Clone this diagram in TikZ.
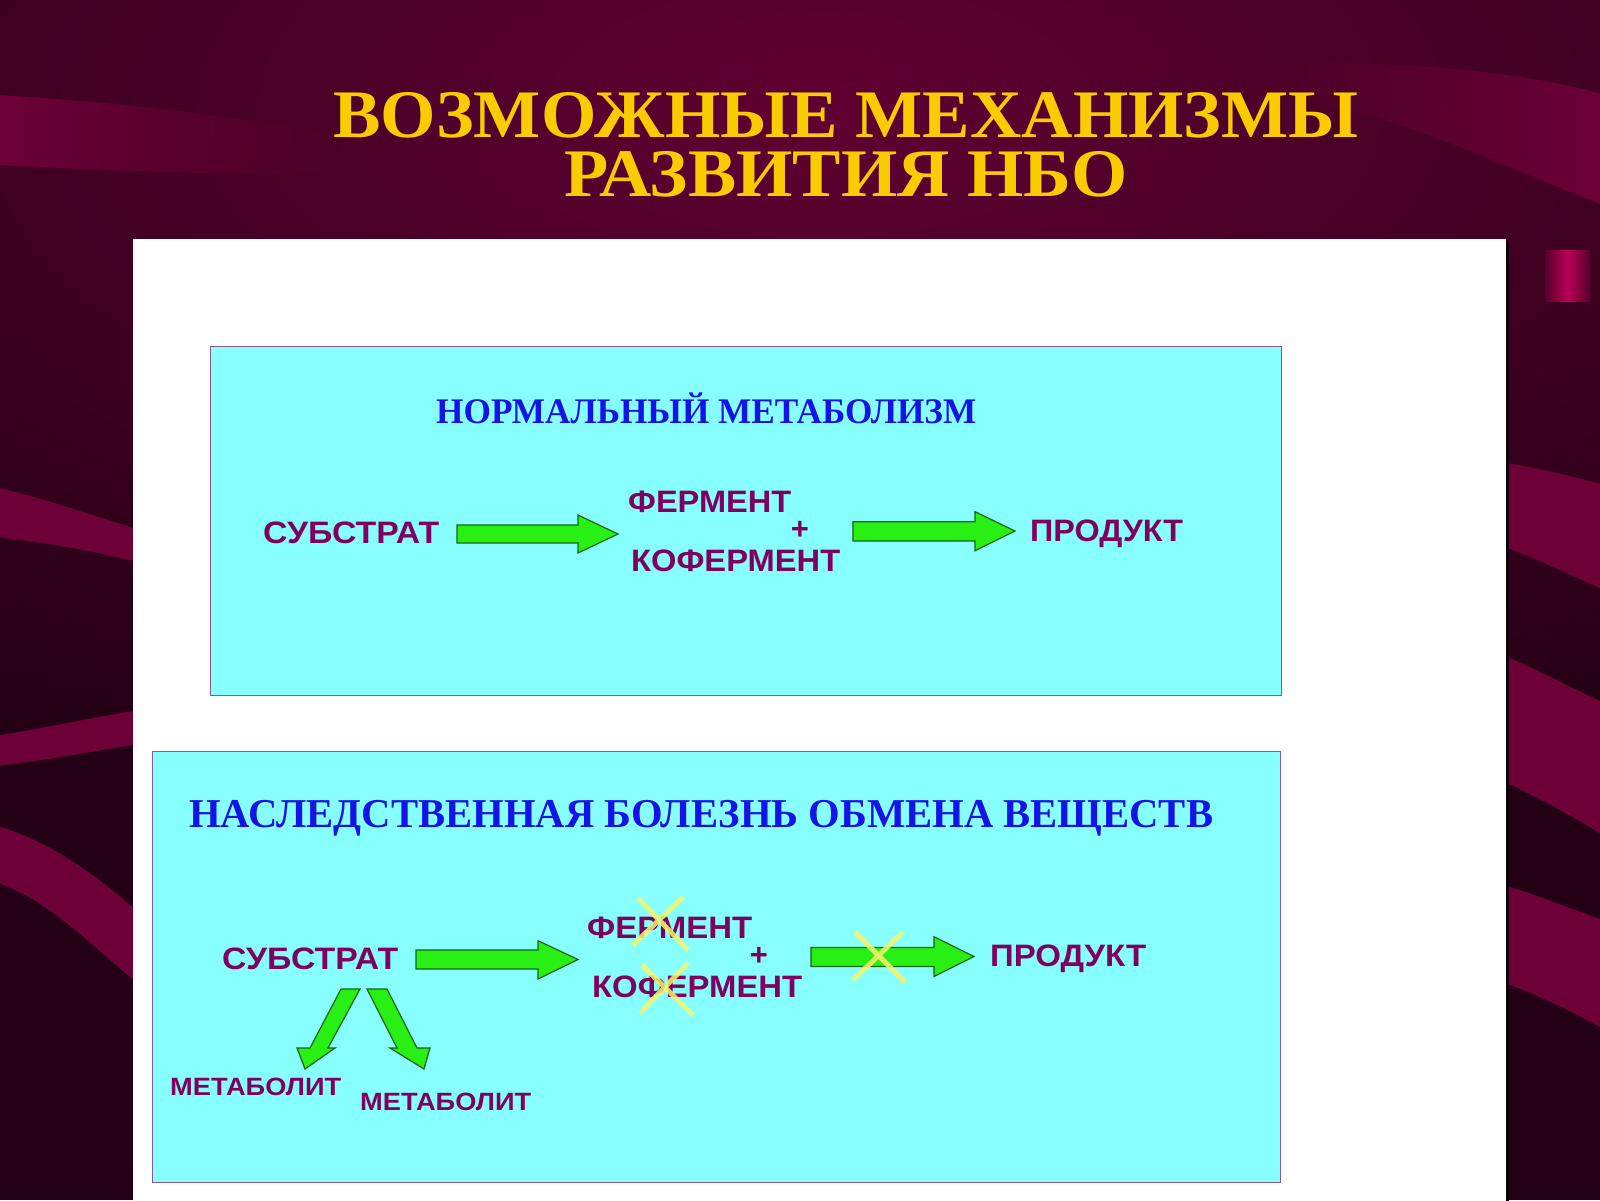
\documentclass[tikz,border=0pt]{standalone}
\usepackage{fontspec}
\usepackage{graphicx}
\usepackage{xcolor}
\setmainfont{Liberation Serif}
\newfontfamily\arialf{Liberation Sans}
\usetikzlibrary{fadings}
\definecolor{bgdark}{RGB}{36,0,20}
\definecolor{bgmid}{RGB}{96,0,50}
\definecolor{bandcol}{RGB}{110,0,56}
\definecolor{gold}{RGB}{250,204,0}
\definecolor{cyanbox}{RGB}{136,255,255}
\definecolor{boxline}{RGB}{140,90,140}
\definecolor{plum}{RGB}{128,0,96}
\definecolor{ttlblue}{RGB}{20,20,230}
\definecolor{arrgreen}{RGB}{40,240,20}
\definecolor{arrline}{RGB}{20,100,20}
\definecolor{xyellow}{RGB}{245,245,110}
\definecolor{pinkglow}{RGB}{185,0,85}
\newcommand{\fitw}[2]{\resizebox{#1}{\height}{#2}}
\tikzfading[name=fadeR, left color=transparent!0, right color=transparent!100]
\tikzfading[name=fadeL, left color=transparent!100, right color=transparent!0]
\tikzset{
  lbl/.style={inner sep=0, anchor=base west, text=plum, font=\arialf\bfseries\fontsize{31}{31}\selectfont},
  metlbl/.style={inner sep=0, anchor=base west, text=plum, font=\arialf\bfseries\fontsize{25}{25}\selectfont},
  boxttl/.style={inner sep=0, anchor=base west, text=ttlblue, font=\bfseries\fontsize{#1}{#1}\selectfont},
  mainttl/.style={inner sep=0, anchor=north, align=center, text=gold, font=\bfseries\fontsize{68}{58.4}\selectfont},
  cyanpanel/.style={draw=boxline, fill=cyanbox, line width=1.2pt, inner sep=0, anchor=north west},
  blockarrow/.style={fill=arrgreen, draw=arrline, line width=1.2pt, line join=miter},
  band/.style={fill=bandcol},
  xmark/.style={draw=xyellow, line width=5pt, opacity=0.85}
}
\begin{document}
\begin{tikzpicture}[x=1pt,y=-1pt]
\useasboundingbox (0,0) rectangle (1600,1200);
% background
\fill[bgdark] (0,0) rectangle (1600,1200);
\begin{scope}
\clip (0,0) rectangle (1600,1200);
\fill[inner color=bgmid, outer color=bgdark] (820,110) ellipse (1500 and 700);
\end{scope}
% bands
\fill[band, path fading=fadeR] (-5,95) .. controls (100,100) and (250,118) .. (340,135) -- (340,172) .. controls (250,177) and (100,170) .. (-5,165) -- cycle;
\fill[band, path fading=fadeL] (1270,62) .. controls (1400,62) and (1520,70) .. (1605,95) -- (1605,205) .. controls (1530,180) and (1420,120) .. (1290,96) -- cycle;
\fill[band] (-5,487) .. controls (50,500) and (100,518) .. (140,530) -- (140,563) .. controls (100,552) and (50,543) .. (-5,537) -- cycle;
\fill[band] (-5,736) .. controls (50,727) and (100,716) .. (140,710) -- (140,744) .. controls (100,750) and (50,760) .. (-5,766) -- cycle;
\fill[band] (-5,825) .. controls (60,845) and (100,880) .. (140,913) -- (140,985) .. controls (90,945) and (50,900) .. (-5,882) -- cycle;
\fill[band] (1500,462) .. controls (1540,468) and (1570,476) .. (1605,485) -- (1605,590) .. controls (1570,575) and (1540,560) .. (1500,545) -- cycle;
\fill[band] (1500,654) .. controls (1540,670) and (1570,688) .. (1605,703) -- (1605,836) .. controls (1570,815) and (1540,798) .. (1500,780) -- cycle;
\fill[band] (1500,884) .. controls (1540,896) and (1570,908) .. (1605,921) -- (1605,1030) .. controls (1570,1010) and (1540,996) .. (1500,981) -- cycle;
% glow square
\fill[left color=bandcol!70!bgdark, right color=bandcol!70!bgdark, middle color=pinkglow] (1545,250) rectangle (1590,301);
% white panel
\fill[black!60!bgdark] (135,241) rectangle (1509,1205);
\fill[white] (133,239) rectangle (1506,1205);
% title
\node[mainttl] (title) at (846,92.5) {\fitw{1025pt}{ВОЗМОЖНЫЕ МЕХАНИЗМЫ}\\\fitw{563pt}{РАЗВИТИЯ НБО}};
% panel 1
\node[cyanpanel, minimum width=1071pt, minimum height=349pt] (box1) at (210,346) {};
\node[boxttl=36] (h1) at (436,423) {\fitw{540pt}{НОРМАЛЬНЫЙ МЕТАБОЛИЗМ}};
\node[lbl] (sub1) at (263,543.3) {\fitw{176pt}{СУБСТРАТ}};
\node[lbl] (fer1) at (628,512.3) {\fitw{163pt}{ФЕРМЕНТ}};
\node[lbl, anchor=center] (plus1) at (800,530.7) {+};
\node[lbl] (kof1) at (631,571.7) {\fitw{209pt}{КОФЕРМЕНТ}};
\node[lbl] (prod1) at (1030,541.7) {\fitw{153pt}{ПРОДУКТ}};
\draw[blockarrow] (457,525) -- (578,525) -- (578,515) -- (618,534) -- (578,553) -- (578,543) -- (457,543) -- cycle;
\draw[blockarrow] (853,521.7) -- (975,521.7) -- (975,511.7) -- (1015,531) -- (975,550.7) -- (975,541) -- (853,541) -- cycle;
% panel 2
\node[cyanpanel, minimum width=1128pt, minimum height=431pt] (box2) at (152,751) {};
\node[boxttl=41] (h2) at (189,827.3) {\fitw{1024pt}{НАСЛЕДСТВЕННАЯ БОЛЕЗНЬ ОБМЕНА ВЕЩЕСТВ}};
\node[lbl] (sub2) at (222,969.3) {\fitw{176pt}{СУБСТРАТ}};
\node[lbl] (fer2) at (587,938.3) {\fitw{165pt}{ФЕРМЕНТ}};
\node[lbl, anchor=center] (plus2) at (759,956.7) {+};
\node[lbl] (kof2) at (592,997.3) {\fitw{210pt}{КОФЕРМЕНТ}};
\node[lbl] (prod2) at (990,966.7) {\fitw{156pt}{ПРОДУКТ}};
\node[metlbl] (met1) at (170,1095) {\fitw{171pt}{МЕТАБОЛИТ}};
\node[metlbl] (met2) at (360,1110.7) {\fitw{171pt}{МЕТАБОЛИТ}};
\draw[blockarrow] (416,950) -- (538,950) -- (538,940.7) -- (578,959.5) -- (538,979) -- (538,969) -- (416,969) -- cycle;
\draw[blockarrow] (811,947.5) -- (934,947.5) -- (934,936.7) -- (974,956.5) -- (934,976.5) -- (934,966.5) -- (811,966.5) -- cycle;
\draw[blockarrow] (341,989) -- (360,989) -- (328,1048) -- (335,1048) -- (305,1069) -- (297,1048) -- (310,1048) -- cycle;
\draw[blockarrow] (367,989) -- (387,989) -- (417,1048) -- (430,1048) -- (424,1069) -- (390,1048) -- (397,1048) -- cycle;
% crosses
\draw[xmark] (638,898) -- (688,950) (683,897) -- (633,945);
\draw[xmark] (642,965) -- (693,1015) (688,963) -- (640,1013);
\draw[xmark] (855,932) -- (905,982) (903,932) -- (853,980);
\end{tikzpicture}
\end{document}
